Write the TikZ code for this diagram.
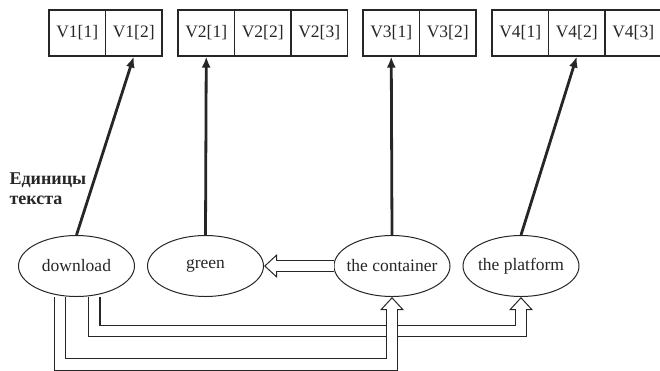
\documentclass[tikz,border=0pt]{standalone}
\usepackage{fontspec}
\setmainfont{Liberation Serif}
\usetikzlibrary{arrows.meta,shapes.geometric}
\tikzset{
  cell/.style={draw, line width=1.1pt, minimum width=56.5pt, minimum height=46pt, inner sep=0pt},
  word/.style={draw, ellipse, line width=1pt, minimum width=116pt, minimum height=61pt, inner xsep=-6pt},
  link/.style={line width=2.8pt, -{Latex[length=11pt,width=9pt]}},
  % outline drawn first, white core on top
  hollow/.style={draw=white, line width=10.5pt, shorten >=1.7pt,
    -{Triangle[length=10.2pt, width=18pt]},
    preaction={draw=black!85, line width=12.7pt, shorten >=0pt,
      -{Triangle[length=13pt, width=23pt]}}}
}
\begin{document}
\begin{tikzpicture}[x=1pt, y=-1pt, black!85, font=\fontsize{17.5}{20}\selectfont]
      \useasboundingbox (0,0) rectangle (660,370);
      \draw
        (77.25,33) node[cell] (v11){V1[1]}
        (133.75,33) node[cell] (v12){V1[2]}
        (206.25,33) node[cell] (v21){V2[1]}
        (262.75,33) node[cell] (v22){V2[2]}
        (319.25,33) node[cell] (v23){V2[3]}
        (391.25,33) node[cell] (v31){V3[1]}
        (447.75,33) node[cell] (v32){V3[2]}
        (520.25,33) node[cell] (v41){V4[1]}
        (576.75,33) node[cell] (v42){V4[2]}
        (633.25,33) node[cell] (v43){V4[3]};
      \draw
        (76.5,266) node[word] (download){download}
        (205.5,266) node[word] (green){green}
        (392,266) node[word] (container){the container}
        (521,266) node[word] (platform){the platform};
      \node[font=\fontsize{18}{20.5}\selectfont\bfseries, align=left, anchor=north west]
        (units) at (6,169) {Единицы\\текста};
      \coordinate (bendP) at (521,331);
      \coordinate (bendC) at (392,364.5);
      \draw[link] (download.north) to (v12.south);
      \draw[link] (green.north) to (v21.south);
      \draw[link] (container.north) to (v31.south);
      \draw[link] (platform.north) to (v42.south);
      \path[hollow] (container) to (green);
      \path[hollow] ([yshift=-1pt]download.-59) |- (bendP) -- (platform);
      \path[hollow] ([yshift=-1pt]download.-119) |- (bendC) -- (container);
    \end{tikzpicture}
\end{document}
